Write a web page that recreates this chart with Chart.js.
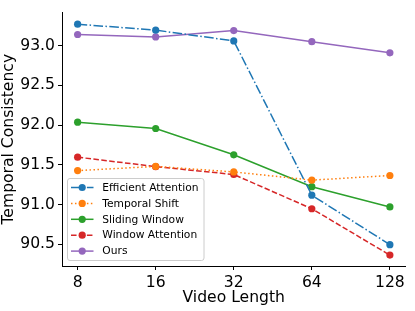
<!DOCTYPE html>
<html>
<head>
<meta charset="utf-8">
<script src="https://cdn.jsdelivr.net/npm/chart.js@4/dist/chart.umd.min.js"></script>
<style>
html,body{margin:0;padding:0;background:#fff;}
#wrap{width:415px;height:311px;position:relative;}
</style>
</head>
<body>
<div id="wrap"><canvas id="c" width="415" height="311"></canvas></div>
<script>
const categories = ["8", "16", "32", "64", "128"];
const efficientAttention = [93.27, 93.195, 93.06, 91.117, 90.495];
const temporalShift = [91.427, 91.48, 91.41, 91.307, 91.365];
const slidingWindow = [92.036, 91.957, 91.626, 91.224, 90.97];
const windowAttention = [91.596, 91.477, 91.378, 90.947, 90.363];
const ours = [93.14, 93.11, 93.19, 93.05, 92.91];
const yTicks = [90.5, 91.0, 91.5, 92.0, 92.5, 93.0];
const seriesNames = ["Efficient Attention", "Temporal Shift", "Sliding Window", "Window Attention", "Ours"];

const FONT = "'DejaVu Sans', sans-serif";
const colors = ['#1f77b4', '#ff7f0e', '#2ca02c', '#d62728', '#9467bd'];
const dashes = [[9.6, 2.4, 1.5, 2.4], [1.5, 2.475], [], [5.55, 2.4], []];
const seriesValues = [efficientAttention, temporalShift, slidingWindow, windowAttention, ours];

const datasets = seriesNames.map((name, i) => ({
  label: name,
  data: seriesValues[i].map((v, j) => ({x: j, y: v})),
  borderColor: colors[i],
  backgroundColor: colors[i],
  borderWidth: 1.5,
  borderDash: dashes[i],
  pointRadius: 3.6,
  pointBorderWidth: 0,
  pointBackgroundColor: colors[i],
  tension: 0,
  fill: false
}));

const legendPlugin = {
  id: 'mplLegend',
  afterDatasetsDraw(chart) {
    const ctx = chart.ctx;
    const x0 = 67.5, y0 = 178.5, w = 136.5, h = 82;
    ctx.save();
    ctx.globalAlpha = 0.8;
    ctx.fillStyle = '#fff';
    ctx.strokeStyle = '#cccccc';
    ctx.lineWidth = 1;
    const r = 2.5;
    ctx.beginPath();
    ctx.moveTo(x0 + r, y0);
    ctx.lineTo(x0 + w - r, y0);
    ctx.arcTo(x0 + w, y0, x0 + w, y0 + r, r);
    ctx.lineTo(x0 + w, y0 + h - r);
    ctx.arcTo(x0 + w, y0 + h, x0 + w - r, y0 + h, r);
    ctx.lineTo(x0 + r, y0 + h);
    ctx.arcTo(x0, y0 + h, x0, y0 + h - r, r);
    ctx.lineTo(x0, y0 + r);
    ctx.arcTo(x0, y0, x0 + r, y0, r);
    ctx.closePath();
    ctx.fill();
    ctx.globalAlpha = 1;
    ctx.stroke();
    chart.data.datasets.forEach((ds, i) => {
      const yy = 187.5 + i * 15.9;
      ctx.strokeStyle = ds.borderColor;
      ctx.lineWidth = 1.5;
      ctx.setLineDash(ds.borderDash || []);
      ctx.beginPath();
      ctx.moveTo(71, yy);
      ctx.lineTo(93.5, yy);
      ctx.stroke();
      ctx.setLineDash([]);
      ctx.fillStyle = ds.borderColor;
      ctx.beginPath();
      ctx.arc(82.2, yy, 3.6, 0, Math.PI * 2);
      ctx.fill();
      ctx.fillStyle = '#000';
      ctx.font = "10.7px " + FONT;
      ctx.textBaseline = 'middle';
      ctx.textAlign = 'left';
      ctx.fillText(ds.label, 102.3, yy + 0.5);
    });
    ctx.restore();
  }
};

new Chart(document.getElementById('c'), {
  type: 'line',
  data: {datasets},
  options: {
    responsive: false,
    animation: false,
    devicePixelRatio: 1,
    layout: {padding: {top: 9, right: 9.5, bottom: 0, left: 0}},
    plugins: {legend: {display: false}, tooltip: {enabled: false}},
    scales: {
      x: {
        type: 'linear',
        min: -0.2,
        max: 4.2,
        afterBuildTicks: s => { s.ticks = categories.map((c, i) => ({value: i})); },
        afterFit: s => { s.height = 45; },
        ticks: {
          callback: v => categories[v],
          font: {family: FONT, size: 15.6},
          color: '#000',
          padding: 4,
          maxRotation: 0,
          autoSkip: false
        },
        grid: {drawOnChartArea: false, drawTicks: true, tickLength: 4, color: '#000', tickWidth: 1},
        border: {display: true, color: '#000', width: 1},
        title: {display: true, text: 'Video Length', font: {family: FONT, size: 15.6}, color: '#000', padding: {top: 0, bottom: 3.5}}
      },
      y: {
        type: 'linear',
        min: 90.226,
        max: 93.419,
        afterBuildTicks: s => { s.ticks = yTicks.map(v => ({value: v})); },
        afterFit: s => { s.width = 62; },
        ticks: {
          callback: v => v.toFixed(1),
          font: {family: FONT, size: 15.6},
          color: '#000',
          padding: 3
        },
        grid: {drawOnChartArea: false, drawTicks: true, tickLength: 4, color: '#000', tickWidth: 1},
        border: {display: true, color: '#000', width: 1},
        title: {display: true, text: 'Temporal Consistency', font: {family: FONT, size: 15.6}, color: '#000', padding: {top: 0, bottom: 0}}
      }
    }
  },
  plugins: [legendPlugin]
});
</script>
</body>
</html>
